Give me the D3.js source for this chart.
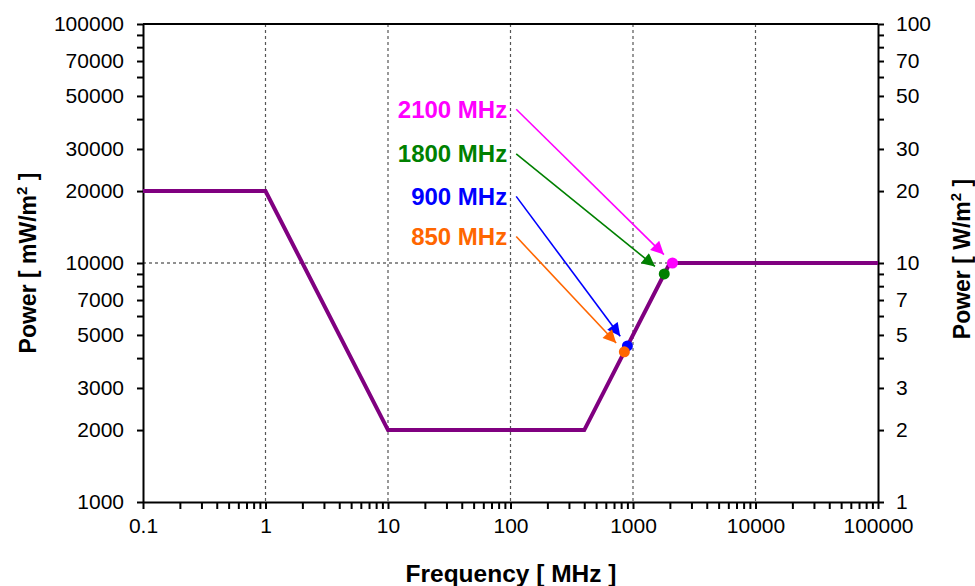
<!DOCTYPE html>
<html>
<head>
<meta charset="utf-8">
<script src="https://cdn.jsdelivr.net/npm/d3@7"></script>
<style>
  html, body { margin: 0; padding: 0; background: #fff; }
  svg { display: block; font-family: "Liberation Sans", Arial, sans-serif; }
</style>
</head>
<body>
<svg id="chart" width="975" height="586"></svg>
<script>
// ---- data ----
const limitFreq = [0.1, 1, 10, 400, 2000, 100000];       // MHz
const limitPower = [20000, 20000, 2000, 2000, 10000, 10000]; // mW/m^2
const bandNames = ["2100 MHz", "1800 MHz", "900 MHz", "850 MHz"];
const bandFreq = [2100, 1800, 900, 850];
const bandPower = [10000, 9000, 4500, 4250];
const bandColors = ["#FF00FF", "#008000", "#0000FF", "#FF6600"];
const xTickLabels = [0.1, 1, 10, 100, 1000, 10000, 100000];
const yLeftLabels = [100000, 70000, 50000, 30000, 20000, 10000, 7000, 5000, 3000, 2000, 1000];
const yRightLabels = [100, 70, 50, 30, 20, 10, 7, 5, 3, 2, 1];

// ---- layout ----
const W = 975, H = 586;
const m = { left: 143, right: 97, top: 24, bottom: 84 };
const pw = W - m.left - m.right, ph = H - m.top - m.bottom;
const svg = d3.select("#chart");
const g = svg.append("g").attr("transform", `translate(${m.left},${m.top})`);

const x = d3.scaleLog().domain([0.1, 100000]).range([0, pw]);
const y = d3.scaleLog().domain([1000, 100000]).range([ph, 0]);
const yR = d3.scaleLog().domain([1, 100]).range([ph, 0]);

// minor tick values
const xMinor = [];
for (let e = -1; e < 5; e++) for (let k = 1; k < 10; k++) xMinor.push(k * Math.pow(10, e));
xMinor.push(100000);
const yMinor = [];
for (let e = 3; e < 5; e++) for (let k = 1; k < 10; k++) yMinor.push(k * Math.pow(10, e));
yMinor.push(100000);

// grid: vertical dashed at decades
g.append("g").selectAll("line").data(xTickLabels.slice(1, -1)).join("line")
  .attr("x1", d => x(d)).attr("x2", d => x(d)).attr("y1", 0).attr("y2", ph)
  .attr("stroke", "#555").attr("stroke-width", 1.2).attr("stroke-dasharray", "3,3");
// horizontal dashed at 10000
g.append("line").attr("x1", 0).attr("x2", pw).attr("y1", y(10000)).attr("y2", y(10000))
  .attr("stroke", "#222").attr("stroke-width", 1.2).attr("stroke-dasharray", "3,3");

// frame top
g.append("line").attr("x1", 0).attr("x2", pw).attr("y1", 0).attr("y2", 0)
  .attr("stroke", "#000").attr("stroke-width", 2);

const fmt = d => d3.format("")(d);
const tickFont = 21;

// x axis
const xAxis = g.append("g").attr("transform", `translate(0,${ph})`)
  .call(d3.axisBottom(x).tickValues(xMinor).tickSize(7).tickSizeOuter(0)
    .tickFormat(d => xTickLabels.includes(d) ? fmt(d) : ""));
xAxis.select(".domain").attr("stroke-width", 2);
xAxis.selectAll(".tick line").attr("stroke-width", 2);
xAxis.selectAll("text").attr("font-size", tickFont).attr("y", 16).attr("dy", "0.71em").attr("fill", "#000")
  .attr("font-family", "Liberation Sans, Arial, sans-serif");

// left y axis
const yAxis = g.append("g")
  .call(d3.axisLeft(y).tickValues(yMinor).tickSize(6).tickSizeOuter(0)
    .tickFormat(d => yLeftLabels.includes(d) ? fmt(d) : ""));
yAxis.select(".domain").attr("stroke-width", 2);
yAxis.selectAll(".tick line").attr("stroke-width", 2);
yAxis.selectAll("text").attr("font-size", tickFont).attr("x", -19).attr("fill", "#000")
  .attr("font-family", "Liberation Sans, Arial, sans-serif");

// right y axis
const yRMinor = yMinor.map(v => v / 1000);
const yRAxis = g.append("g").attr("transform", `translate(${pw},0)`)
  .call(d3.axisRight(yR).tickValues(yRMinor).tickSize(6).tickSizeOuter(0)
    .tickFormat(d => yRightLabels.some(v => Math.abs(v - d) < 1e-9) ? fmt(Math.round(d)) : ""));
yRAxis.select(".domain").attr("stroke-width", 2);
yRAxis.selectAll(".tick line").attr("stroke-width", 2);
yRAxis.selectAll("text").attr("font-size", tickFont).attr("x", 18).attr("fill", "#000")
  .attr("font-family", "Liberation Sans, Arial, sans-serif");

// limit line
const lineData = limitFreq.map((f, i) => [f, limitPower[i]]);
g.append("path").datum(lineData)
  .attr("d", d3.line().x(d => x(d[0])).y(d => y(d[1])))
  .attr("fill", "none").attr("stroke", "#800080").attr("stroke-width", 4)
  .attr("stroke-linejoin", "miter");

// annotations: label anchors (in data units) and arrows
const labelAnchorFreq = 94;                 // MHz, right edge of labels
const labelAnchorPower = [44000, 28600, 19000, 12900];
const defs = svg.append("defs");
bandColors.forEach((c, i) => {
  defs.append("marker").attr("id", "arr" + i)
    .attr("viewBox", "0 0 10 10").attr("refX", 10).attr("refY", 5)
    .attr("markerWidth", 15).attr("markerHeight", 13).attr("markerUnits", "userSpaceOnUse")
    .attr("orient", "auto")
    .append("path").attr("d", "M0,0 L10,5 L0,10 Z").attr("fill", c);
});
const ann = g.append("g");
bandNames.forEach((name, i) => {
  const lx = x(labelAnchorFreq), ly = y(labelAnchorPower[i]);
  ann.append("text").attr("x", lx).attr("y", ly).attr("text-anchor", "end")
    .attr("dominant-baseline", "central")
    .attr("font-size", 24).attr("font-weight", "bold").attr("fill", bandColors[i])
    .text(name);
  const sx = lx + 9, sy = ly;
  const px = x(bandFreq[i]), py = y(bandPower[i]);
  const dx = px - sx, dy = py - sy, L = Math.hypot(dx, dy);
  const gap = 12;
  ann.append("line").attr("x1", sx).attr("y1", sy)
    .attr("x2", px - dx / L * gap).attr("y2", py - dy / L * gap)
    .attr("stroke", bandColors[i]).attr("stroke-width", 1.6)
    .attr("marker-end", `url(#arr${i})`);
});

// points
g.append("g").selectAll("circle").data(bandFreq).join("circle")
  .attr("cx", d => x(d)).attr("cy", (d, i) => y(bandPower[i]))
  .attr("r", 5.5).attr("fill", (d, i) => bandColors[i]);

// axis titles
svg.append("text").attr("x", 511).attr("y", 582)
  .attr("text-anchor", "middle").attr("font-size", 24.5).attr("font-weight", "bold")
  .text("Frequency [ MHz ]");

const lt = svg.append("text").attr("transform", `translate(36,${m.top + y(10000)})rotate(-90)`)
  .attr("text-anchor", "middle").attr("font-size", 23).attr("font-weight", "bold");
lt.append("tspan").text("Power [ mW/m");
lt.append("tspan").attr("dy", -9).attr("font-size", 15).text("2");
lt.append("tspan").attr("dy", 9).text(" ]");

const rt = svg.append("text").attr("transform", `translate(970,${m.top + y(10000) - 4})rotate(-90)`)
  .attr("text-anchor", "middle").attr("font-size", 23).attr("font-weight", "bold");
rt.append("tspan").text("Power [ W/m");
rt.append("tspan").attr("dy", -9).attr("font-size", 15).text("2");
rt.append("tspan").attr("dy", 9).text(" ]");
</script>
</body>
</html>
